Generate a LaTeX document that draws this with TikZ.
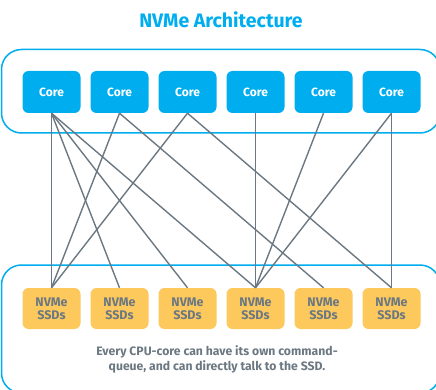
\documentclass[tikz,border=0pt]{standalone}
\usepackage{fontspec}
\setmainfont{Fira Sans}
\definecolor{nvblue}{HTML}{00AEEF}
\definecolor{nvgold}{HTML}{FDC85C}
\definecolor{nvgray}{HTML}{6B7882}
\begin{document}
\begin{tikzpicture}[x=1pt,y=-1pt,
  corebox/.style={fill=nvblue, rounded corners=6pt, minimum width=58pt, minimum height=42pt, inner sep=0pt, text=white, font=\bfseries\fontsize{12}{14}\selectfont},
  ssdbox/.style={fill=nvgold, rounded corners=6pt, minimum width=58pt, minimum height=41pt, inner sep=0pt, text=nvgray, align=center, font=\bfseries\fontsize{12.5}{13}\selectfont},
  frame/.style={draw=nvblue, line width=1.5pt, rounded corners=20pt},
  link/.style={draw=nvgray, line width=1.4pt}]
\useasboundingbox (0,0) rectangle (436,390);
\begin{scope}
  \clip (0,0) rectangle (436,390);
  \draw[frame] (1.5,49.5) rectangle (440,133);
  \draw[frame] (1.5,265) rectangle (440,393);
\end{scope}
\node[text=nvblue, font=\bfseries\fontsize{19.5}{22}\selectfont] (title) at (221,20) {NVMe Architecture};
\foreach \i/\x in {1/51.5,2/119.5,3/187.5,4/255.5,5/323.5,6/391.5}{
  \node[corebox] (c\i) at (\x,92) {Core};
  \node[ssdbox] (s\i) at (\x,308.5) {NVMe\\SSDs};
}
\foreach \a/\b in {1/1,1/2,1/3,1/4,2/1,2/5,3/1,3/6,4/4,5/4,6/4,6/6}{
  \draw[link] (c\a.south) -- (s\b.north);
}
\node[text=nvgray, align=center, font=\bfseries\fontsize{12.2}{15}\selectfont] (caption) at (217,359) {Every CPU-core can have its own command-\\queue, and can directly talk to the SSD.};
\end{tikzpicture}
\end{document}
